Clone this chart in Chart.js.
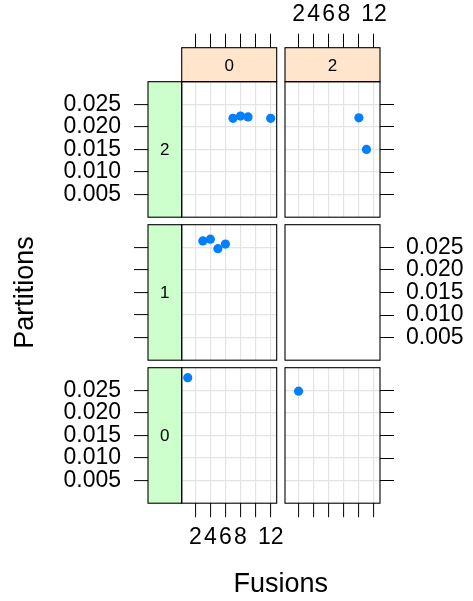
<!DOCTYPE html>
<html>
<head>
<meta charset="utf-8">
<script src="https://cdn.jsdelivr.net/npm/chart.js@4/dist/chart.umd.min.js"></script>
<style>
  html, body { margin: 0; padding: 0; background: #ffffff; }
  #wrap { position: relative; width: 473px; height: 601px; overflow: hidden; }
  #wrap canvas { position: absolute; left: 0; top: 0; }
</style>
</head>
<body>
<div id="wrap"></div>
<script>
// Conditioning groups: Fusions across the columns, Partitions down the rows
const fusionGroups = ['0', '2'];
const partitionGroups = ['2', '1', '0'];

// Points in each panel (x = Fusions, y = Partitions)
const p2f0Fusions = [7, 8, 9, 12];
const p2f0Partitions = [0.0219, 0.0224, 0.0222, 0.0219];
const p2f2Fusions = [10, 11];
const p2f2Partitions = [0.0220, 0.0150];
const p1f0Fusions = [3, 4, 5, 6];
const p1f0Partitions = [0.0264, 0.0268, 0.0247, 0.0257];
const p1f2Fusions = [];
const p1f2Partitions = [];
const p0f0Fusions = [1];
const p0f0Partitions = [0.0278];
const p0f2Fusions = [2];
const p0f2Partitions = [0.0248];

// Axis ticks; 10 is left unlabelled, its label would run into 8 and 12
const xTickValues = [2, 4, 6, 8, 10, 12];
const xTickLabels = ['2', '4', '6', '8', '', '12'];
const yTickValues = [0.005, 0.010, 0.015, 0.020, 0.025];
const yTickLabels = ['0.005', '0.010', '0.015', '0.020', '0.025'];

// rows top to bottom, columns left to right
const panelSeries = [
  [[p2f0Fusions, p2f0Partitions], [p2f2Fusions, p2f2Partitions]],
  [[p1f0Fusions, p1f0Partitions], [p1f2Fusions, p1f2Partitions]],
  [[p0f0Fusions, p0f0Partitions], [p0f2Fusions, p0f2Partitions]]
];

// ---- page layout ----
const W = 473, H = 601;
const colLeft = [181.7, 285];
const rowTop = [81.7, 224.7, 367.7];
const panelW = 95, panelH = 135.5;
const stripW = 33.7, stripH = 34;
const tickLen = 14;
const xMin = 0.2, xMax = 12.8, yMin = 0, yMax = 0.030;
const FONT = '"Liberation Sans", Arial, Helvetica, sans-serif';
const gridColor = '#e4e4e4';
const pointColor = '#0080ff';

// Axes take no room from the panel; afterwards their boxes are widened
// outwards so that tick labels outside the panel are not clipped.
const outerAxes = {
  id: 'outerAxes',
  afterLayout(chart) {
    Object.values(chart.scales).forEach(s => {
      const pos = s.options.position;
      if (pos === 'left') s.left = 0;
      else if (pos === 'right') s.right = chart.width;
      else if (pos === 'top') s.top = 0;
      else if (pos === 'bottom') s.bottom = chart.height;
      s.width = s.right - s.left;
      s.height = s.bottom - s.top;
    });
  }
};

// frame, strips around each panel
const panelDecor = {
  id: 'panelDecor',
  afterDraw(chart, args, opts) {
    const ctx = chart.ctx;
    const a = chart.chartArea;
    ctx.save();
    ctx.lineWidth = 1.1;
    ctx.strokeStyle = '#000000';
    ctx.textAlign = 'center';
    ctx.textBaseline = 'middle';
    ctx.font = '17px ' + FONT;
    if (opts.topStrip !== null) {
      ctx.fillStyle = '#ffe5cc';
      ctx.fillRect(a.left, a.top - stripH, a.right - a.left, stripH);
      ctx.strokeRect(a.left, a.top - stripH, a.right - a.left, stripH);
      ctx.fillStyle = '#000000';
      ctx.fillText(opts.topStrip, (a.left + a.right) / 2, a.top - stripH / 2 + 1.5);
    }
    if (opts.leftStrip !== null) {
      ctx.fillStyle = '#ccffcc';
      ctx.fillRect(a.left - stripW, a.top, stripW, a.bottom - a.top);
      ctx.strokeRect(a.left - stripW, a.top, stripW, a.bottom - a.top);
      ctx.fillStyle = '#000000';
      ctx.fillText(opts.leftStrip, a.left - stripW / 2, (a.top + a.bottom) / 2 + 0.5);
    }
    ctx.strokeRect(a.left, a.top, a.right - a.left, a.bottom - a.top);
    ctx.restore();
  }
};

// shared axis titles
const axisTitles = {
  id: 'axisTitles',
  afterDraw(chart) {
    const ctx = chart.ctx;
    ctx.save();
    ctx.fillStyle = '#000000';
    ctx.font = '27px ' + FONT;
    ctx.textAlign = 'center';
    ctx.textBaseline = 'alphabetic';
    const midX = (colLeft[0] + colLeft[1] + panelW) / 2;
    ctx.fillText('Fusions', midX, 592.3);
    const midY = (rowTop[0] + rowTop[2] + panelH) / 2;
    ctx.translate(33.3, midY);
    ctx.rotate(-Math.PI / 2);
    ctx.fillText('Partitions', 0, 0);
    ctx.restore();
  }
};

const wrap = document.getElementById('wrap');
const setXTicks = s => { s.ticks = xTickValues.map(v => ({ value: v })); };
const setYTicks = s => { s.ticks = yTickValues.map(v => ({ value: v })); };
const noHeight = s => { s.height = 0; };
const noWidth = s => { s.width = 0; };
const tickFont = { family: FONT, size: 23 };

panelSeries.forEach((row, r) => {
  row.forEach(([xs, ys], c) => {
    const isTop = r === 0, isBottom = r === panelSeries.length - 1;
    const isLeft = c === 0, isRight = c === row.length - 1;
    const hasData = xs.length > 0;
    const canvas = document.createElement('canvas');
    canvas.width = W; canvas.height = H;
    wrap.appendChild(canvas);
    const left = colLeft[c], top = rowTop[r];

    new Chart(canvas, {
      type: 'scatter',
      data: {
        datasets: [{
          data: xs.map((x, i) => ({ x: x, y: ys[i] })),
          backgroundColor: pointColor,
          borderWidth: 0,
          pointRadius: 4.6,
          pointHoverRadius: 4.6
        }]
      },
      options: {
        responsive: false,
        animation: false,
        devicePixelRatio: 1,
        events: [],
        layout: {
          padding: { left: left, top: top, right: W - left - panelW, bottom: H - top - panelH }
        },
        plugins: {
          legend: { display: false },
          tooltip: { enabled: false },
          panelDecor: {
            topStrip: isTop ? fusionGroups[c] : null,
            leftStrip: isLeft ? partitionGroups[r] : null
          }
        },
        scales: {
          x: {
            type: 'linear', axis: 'x', position: 'bottom', min: xMin, max: xMax,
            afterBuildTicks: setXTicks, afterFit: noHeight,
            border: { display: false },
            grid: { display: true, drawOnChartArea: hasData, drawTicks: isBottom, tickLength: tickLen,
                    color: gridColor, lineWidth: 1.2, tickColor: '#000000', tickWidth: 1 },
            ticks: { display: isBottom && isLeft, padding: 7, color: '#000000', font: tickFont,
                     maxRotation: 0, autoSkip: false, callback: (v, i) => xTickLabels[i] }
          },
          x2: {
            type: 'linear', axis: 'x', position: 'top', min: xMin, max: xMax,
            afterBuildTicks: setXTicks, afterFit: noHeight,
            border: { display: false },
            grid: { display: true, drawOnChartArea: false, drawTicks: isTop, tickLength: tickLen + stripH,
                    tickColor: '#000000', tickWidth: 1 },
            ticks: { display: isTop && isRight, padding: 5.5, color: '#000000', font: tickFont,
                     maxRotation: 0, autoSkip: false, callback: (v, i) => xTickLabels[i] }
          },
          y: {
            type: 'linear', axis: 'y', position: 'left', min: yMin, max: yMax,
            afterBuildTicks: setYTicks, afterFit: noWidth,
            border: { display: false },
            grid: { display: true, drawOnChartArea: hasData, drawTicks: isLeft, tickLength: tickLen + stripW,
                    color: gridColor, lineWidth: 1.2, tickColor: '#000000', tickWidth: 1 },
            ticks: { display: isLeft && r !== 1, padding: 13, color: '#000000', font: tickFont,
                     autoSkip: false, callback: (v, i) => yTickLabels[i] }
          },
          y2: {
            type: 'linear', axis: 'y', position: 'right', min: yMin, max: yMax,
            afterBuildTicks: setYTicks, afterFit: noWidth,
            border: { display: false },
            grid: { display: true, drawOnChartArea: false, drawTicks: isRight, tickLength: tickLen,
                    tickColor: '#000000', tickWidth: 1 },
            ticks: { display: isRight && r === 1, padding: 12, color: '#000000', font: tickFont,
                     autoSkip: false, callback: (v, i) => yTickLabels[i] }
          }
        }
      },
      plugins: (r === 0 && c === 0) ? [outerAxes, panelDecor, axisTitles] : [outerAxes, panelDecor]
    });
  });
});
</script>
</body>
</html>
